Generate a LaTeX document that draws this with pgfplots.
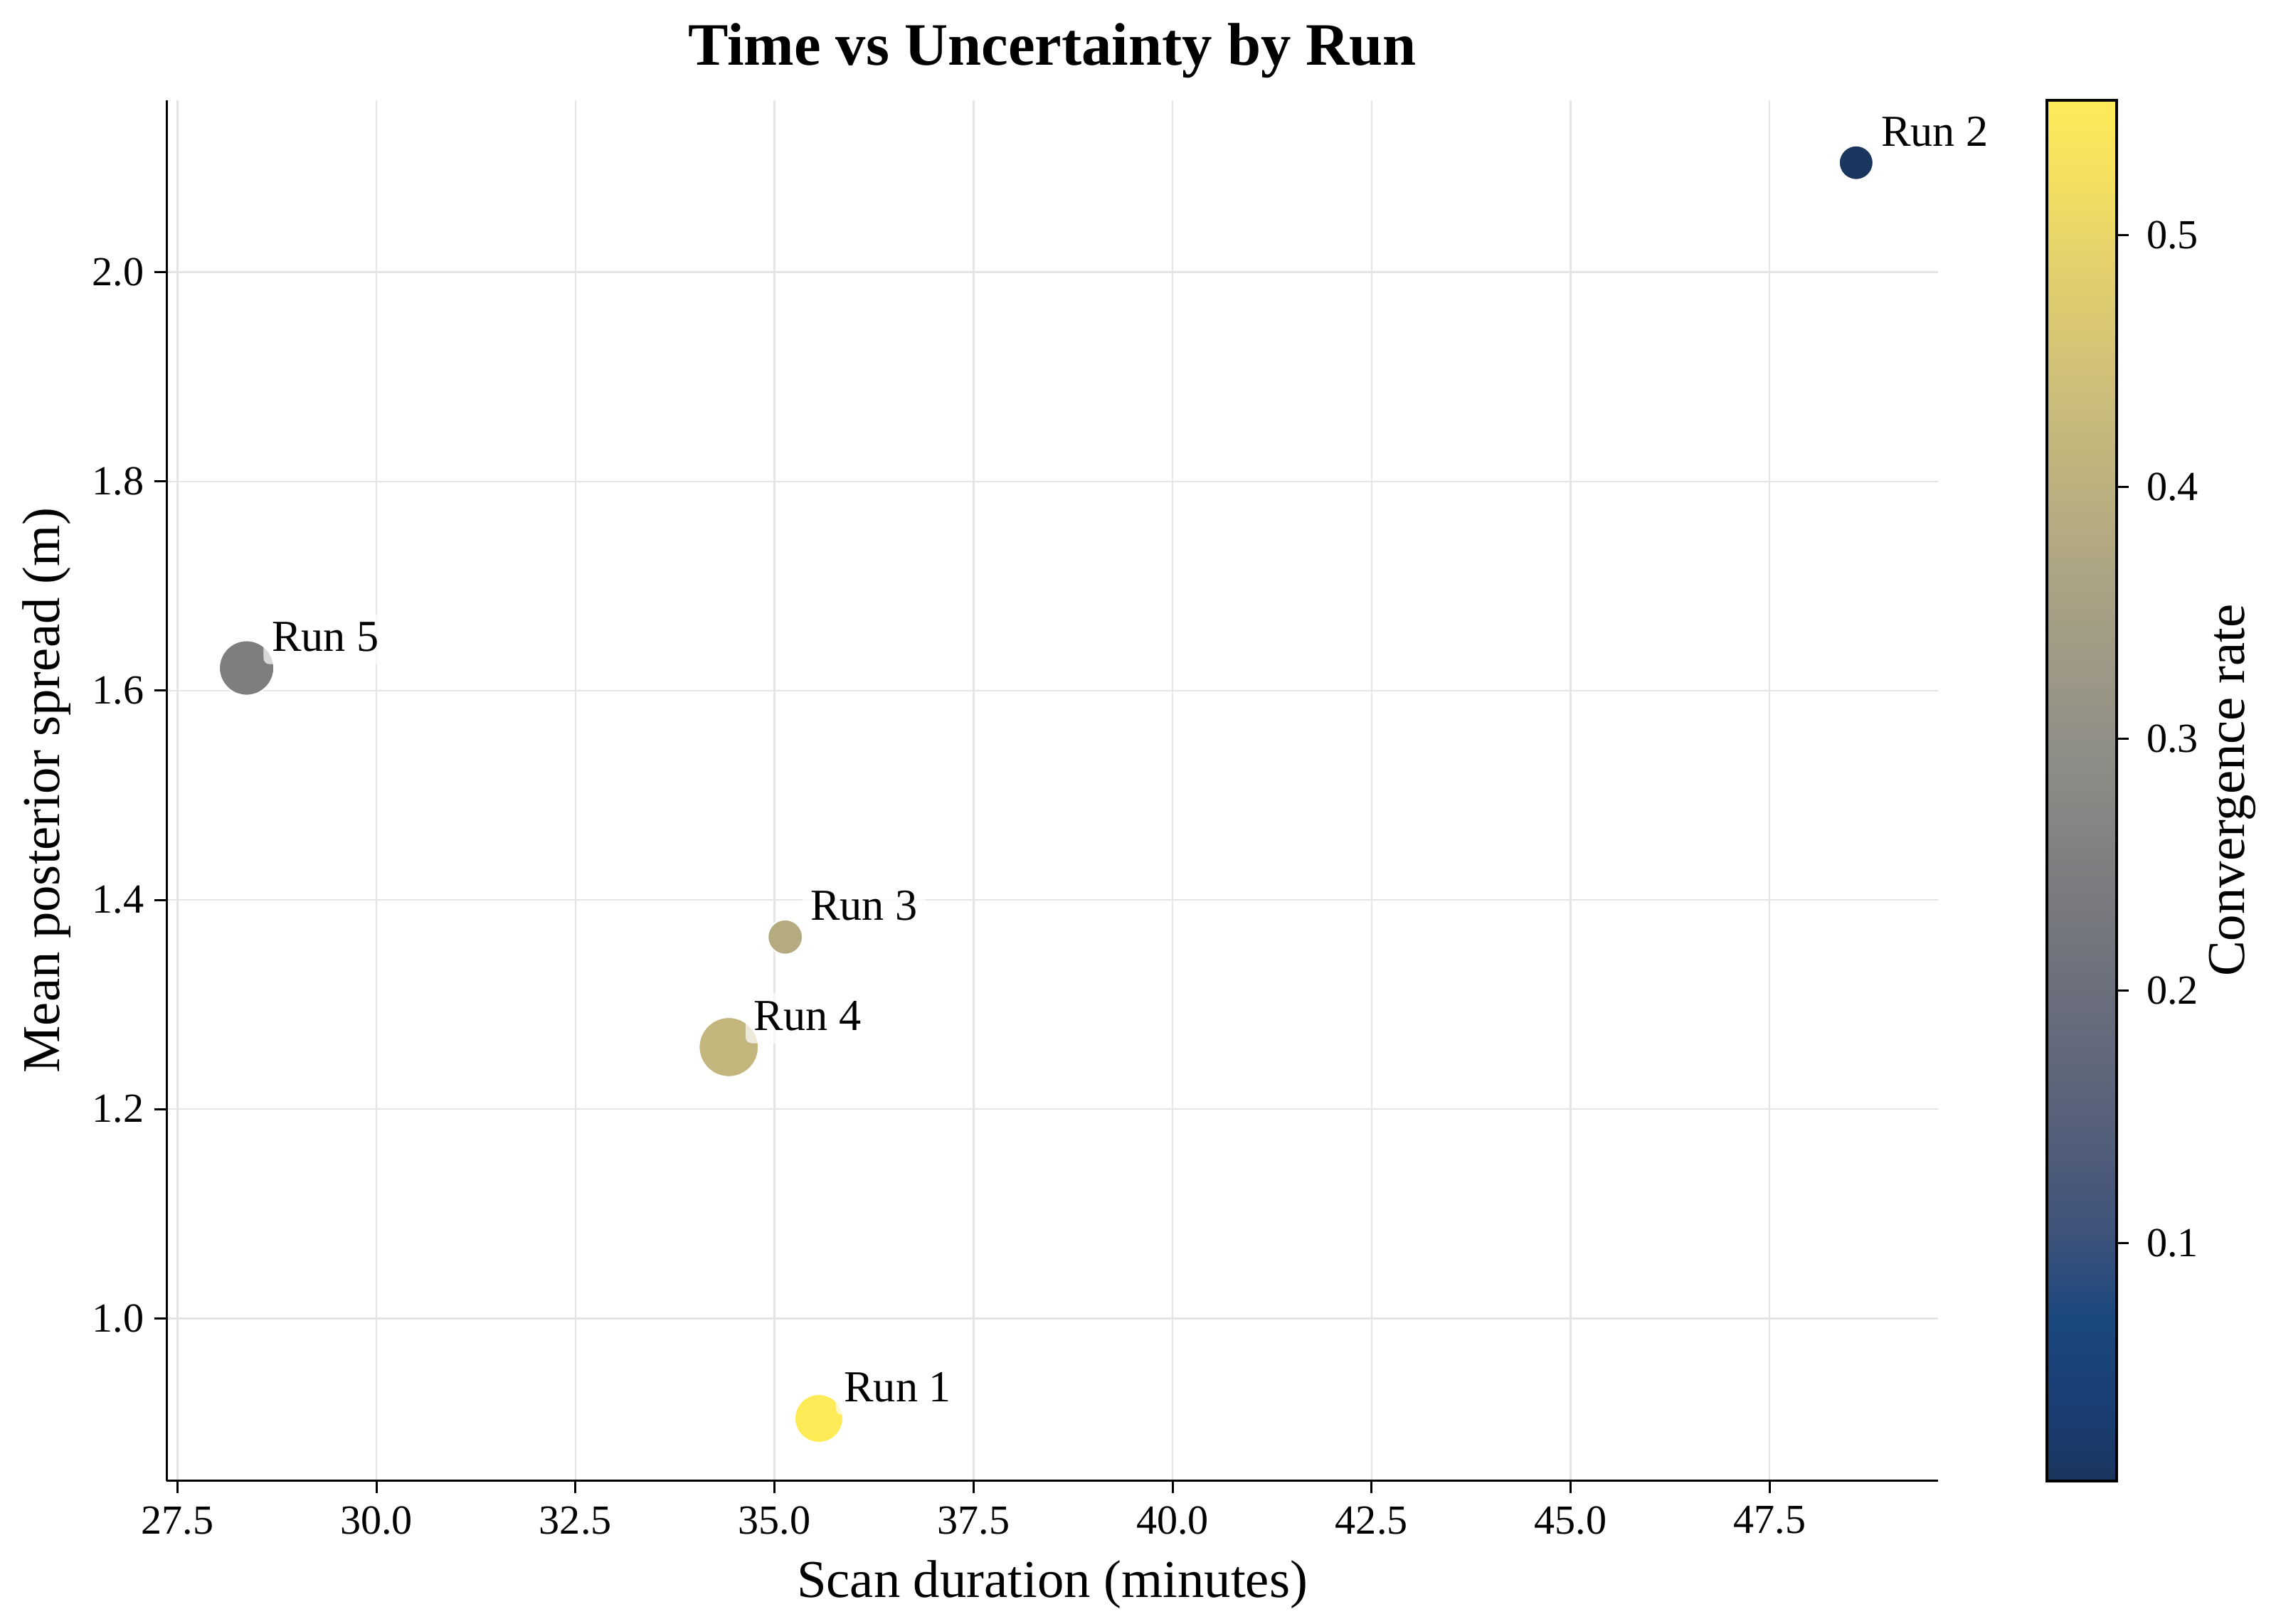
\documentclass[border=0pt]{standalone}
\usepackage{fontspec}
\setmainfont{Liberation Serif}
\usepackage{pgfplots}
\pgfplotsset{compat=1.18}
\usepackage{pgfplotstable}

% cividis, drawn at 90% opacity over white
\pgfplotsset{colormap={cividisw}{
  rgb255=(26,54,94) rgb255=(26,63,117) rgb255=(26,72,125) rgb255=(61,82,123)
  rgb255=(80,92,122) rgb255=(94,102,122) rgb255=(107,111,124) rgb255=(119,121,126)
  rgb255=(131,131,131) rgb255=(143,142,134) rgb255=(157,152,134) rgb255=(170,162,132)
  rgb255=(184,174,128) rgb255=(198,185,124) rgb255=(214,197,117) rgb255=(228,209,108)
  rgb255=(244,223,97) rgb255=(255,235,88)}}

% run, scan duration (min), mean posterior spread (m), convergence rate, marker radius (pt)
\pgfplotstableread{
run dur    spread rate   r
1   35.558 0.9043 0.5535 8.2
2   48.587 2.1047 0.0056 5.8
3   35.135 1.3645 0.3837 5.9
4   34.426 1.2593 0.4165 10.1
5   28.370 1.6217 0.2467 9.3
}\runs

\begin{document}
\begin{tikzpicture}
\useasboundingbox (0,0) rectangle (767.76bp,547.92bp);
\begin{axis}[
  at={(56.23bp,48.32bp)}, anchor=south west,
  scale only axis, width=597.5bp, height=465.84bp,
  xmin=27.366, xmax=49.615, ymin=0.8447, ymax=2.1646,
  clip=false,
  axis x line*=bottom, axis y line*=left,
  axis line style={line width=0.72bp},
  tick align=outside, major tick length=4.1bp,
  every tick/.style={black, line width=0.72bp},
  xtick={27.5,30,32.5,35,37.5,40,42.5,45,47.5},
  ytick={1.0,1.2,1.4,1.6,1.8,2.0},
  grid=major, major grid style={black!10, line width=0.6bp},
  /pgf/number format/assume math mode=true,
  ticklabel style={font=\fontsize{14}{16}\selectfont},
  xticklabel style={yshift=-1bp, /pgf/number format/.cd, fixed, fixed zerofill, precision=1},
  yticklabel style={/pgf/number format/.cd, fixed, fixed zerofill, precision=1},
  title={Time vs Uncertainty by Run},
  title style={at={(axis description cs:0.5,1)}, anchor=base, yshift=5.8bp,
    font=\fontsize{20.4}{24}\selectfont\bfseries},
  xlabel={Scan duration (minutes)},
  xlabel style={at={(axis description cs:0.5,0)}, anchor=base, yshift=-39.4bp,
    font=\fontsize{18}{22}\selectfont},
  ylabel={Mean posterior spread (m)},
  ylabel style={at={(axis description cs:0,0.5)}, anchor=center, yshift=40.6bp,
    font=\fontsize{18}{22}\selectfont},
  colormap name=cividisw,
  point meta min=0.0056, point meta max=0.5535,
  colorbar,
  colorbar/width=23.6bp,
  colorbar style={
    at={(parent axis.north east)}, anchor=north west, xshift=28.14bp,
    scale only axis, width=23.6bp, height=465.84bp,
    axis line style={line width=1bp},
    tick align=outside, major tick length=4.1bp,
    every tick/.style={black, line width=0.72bp},
    ytick pos=right, yticklabel pos=right,
    ytick={0.1,0.2,0.3,0.4,0.5},
    yticklabel style={xshift=2.5bp, font=\fontsize{14}{16}\selectfont,
      /pgf/number format/.cd, fixed, fixed zerofill, precision=1, assume math mode=true},
    ylabel={Convergence rate},
    ylabel style={at={(axis description cs:1,0.5)}, anchor=center, yshift=-39bp,
      font=\fontsize{18}{22}\selectfont},
  },
]
\addplot[scatter, only marks, mark=*, line width=0.5bp,
  scatter src=explicit,
  scatter/use mapped color={draw=white, fill=mapped color},
  visualization depends on={\thisrow{r} \as \rad},
  scatter/@pre marker code/.append style={/tikz/mark size=\rad pt}]
  table[x=dur, y=spread, meta=rate] {\runs};

\addplot[only marks, mark=none,
  point meta=explicit symbolic,
  nodes near coords={Run \pgfplotspointmeta},
  nodes near coords style={anchor=base west, xshift=5.5bp, yshift=5.6bp,
    fill=white, fill opacity=0.7, text opacity=1, text=black,
    rounded corners=2bp, inner sep=2.8bp, text depth=1.5bp,
    font=\fontsize{15}{18}\selectfont}]
  table[x=dur, y=spread, meta=run] {\runs};
\end{axis}
\end{tikzpicture}
\end{document}
